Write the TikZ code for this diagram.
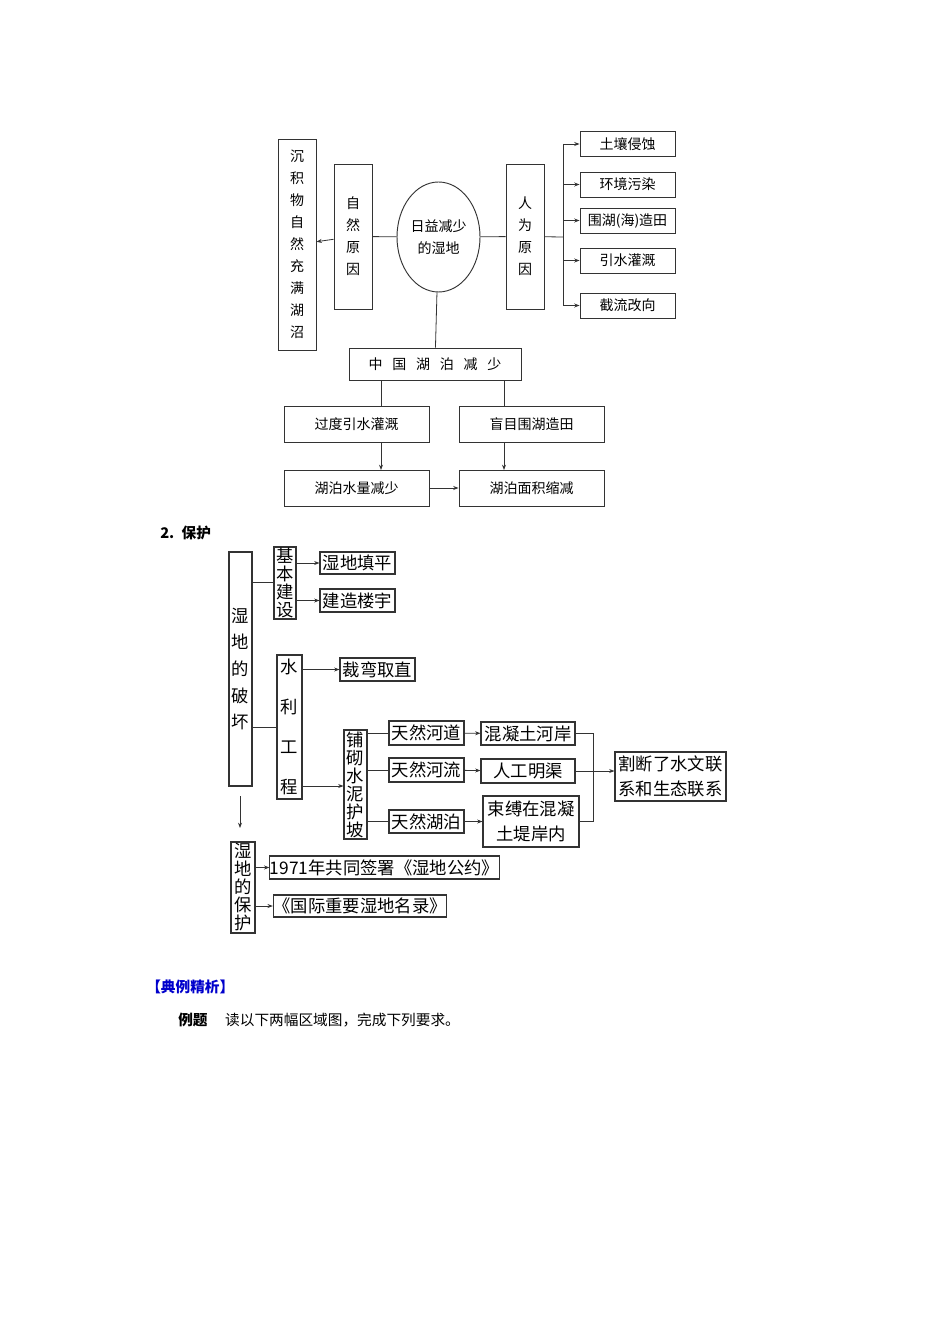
\documentclass[tikz,border=0pt]{standalone}
\usepackage{fontspec}
\setmainfont{Liberation Serif}
\newfontfamily\cjk{Noto Sans CJK SC}
\usetikzlibrary{arrows.meta,shapes.geometric}
\begin{document}
\begin{tikzpicture}[x=0.75pt,y=-0.75pt,
  sz/.style 2 args={minimum width=#1*0.75pt,minimum height=#2*0.75pt},
  bx/.style={draw=black!80,line width=0.7pt,inner sep=0pt,align=center,font=\cjk\fontsize{10.5}{16.5}\selectfont},
  bb/.style={draw=black!80,line width=0.8pt,inner sep=0pt,align=center,font=\cjk\fontsize{13}{13.5}\selectfont},
  ln/.style={draw=black!80,line width=0.6pt},
  ar/.style={ln,-{Stealth[length=4pt,width=3pt]}}]
\useasboundingbox (0,0) rectangle (950,1344);
\fill[white] (0,0) rectangle (950,1344);
% ---- top diagram
\node[bx,sz={38}{211}] (cj) at (297,244.5) {沉\\积\\物\\自\\然\\充\\满\\湖\\沼};
\node[bx,sz={38}{145}] (zr) at (353,236.5) {自\\然\\原\\因};
\node[bx,ellipse,sz={83}{110}] (el) at (438.5,237) {日益减少\\的湿地};
\node[bx,sz={38}{145}] (rw) at (525,236.5) {人\\为\\原\\因};
\node[bx,sz={95}{25}] (r1) at (627.5,144) {土壤侵蚀};
\node[bx,sz={95}{25}] (r2) at (627.5,184.5) {环境污染};
\node[bx,sz={95}{25}] (r3) at (627.5,220.5) {围湖(海)造田};
\node[bx,sz={95}{25}] (r4) at (627.5,260.5) {引水灌溉};
\node[bx,sz={95}{25}] (r5) at (627.5,305.5) {截流改向};
\node[bx,sz={172}{32}] (zg) at (435,364) {中\hspace{0.7em}国\hspace{0.7em}湖\hspace{0.7em}泊\hspace{0.7em}减\hspace{0.7em}少};
\node[bx,sz={145}{36}] (gd) at (356.5,424) {过度引水灌溉};
\node[bx,sz={145}{36}] (mm) at (531.5,424) {盲目围湖造田};
\node[bx,sz={145}{36}] (sl) at (356.5,488) {湖泊水量减少};
\node[bx,sz={145}{36}] (mj) at (531.5,488) {湖泊面积缩减};
\draw[ln] (el) -- (zr);
\draw[ar] (zr) -- (cj);
\draw[ln] (el) -- (rw);
\coordinate (bj) at (563,237);
\coordinate (bt) at (563,144);
\coordinate (bb2) at (563,305.5);
\draw[ln] (rw) -- (bj);
\draw[ln] (bt) -- (bb2);
\foreach \n in {r1,r2,r3,r4,r5} \draw[ar] (bt |- \n) -- (\n);
\draw[ln] (el) -- (zg);
\coordinate (a1) at (381,380); \coordinate (a2) at (381,406);
\coordinate (a3) at (381,442); \coordinate (a4) at (381,470);
\coordinate (b1) at (504,380); \coordinate (b2) at (504,406);
\coordinate (b3) at (504,442); \coordinate (b4) at (504,470);
\draw[ln] (a1) -- (a2); \draw[ln] (b1) -- (b2);
\draw[ar] (a3) -- (a4); \draw[ar] (b3) -- (b4);
\draw[ar] (sl) -- (mj);
% ---- heading
\node[anchor=west,inner sep=0pt,font=\cjk\fontsize{11}{13}\selectfont\bfseries] (h2) at (160,533) {2.\hspace{0.5em}保护};
% ---- bottom diagram
\node[bb,sz={23}{234},font=\cjk\fontsize{13}{20}\selectfont] (ph) at (240.5,669) {湿\\地\\的\\破\\坏};
\node[bb,sz={22}{72}] (jb) at (285,583) {基\\本\\建\\设};
\node[bb,sz={75}{22}] (tp) at (357.5,563) {湿地填平};
\node[bb,sz={75}{23}] (lz) at (357.5,600.5) {建造楼宇};
\node[bb,sz={25}{144},font=\cjk\fontsize{13}{30}\selectfont] (sl2) at (289.5,727) {水\\利\\工\\程};
\node[bb,sz={75}{23}] (cw) at (377.5,669.5) {裁弯取直};
\node[bb,sz={23}{109}] (pq) at (355.5,784.5) {铺\\砌\\水\\泥\\护\\坡};
\node[bb,sz={75}{24}] (t1) at (426.5,733) {天然河道};
\node[bb,sz={75}{24}] (t2) at (426.5,770) {天然河流};
\node[bb,sz={75}{23}] (t3) at (426.5,821.5) {天然湖泊};
\node[bb,sz={94}{23}] (h1) at (528,733.5) {混凝土河岸};
\node[bb,sz={94}{24}] (h2b) at (528,771) {人工明渠};
\node[bb,sz={96}{51},font=\cjk\fontsize{13}{19}\selectfont] (h3) at (531,821.5) {束缚在混凝\\土堤岸内};
\node[bb,sz={111}{49},font=\cjk\fontsize{13}{19}\selectfont] (gd2) at (670.5,776.5) {割断了水文联\\系和生态联系};
\node[bb,sz={24}{91}] (bh) at (243,887.5) {湿\\地\\的\\保\\护};
\node[bb,sz={221}{23}] (gy) at (384.5,867.5) {1971年共同签署《湿地公约》};
\node[bb,sz={172}{22}] (ml) at (360,906) {《国际重要湿地名录》};
\coordinate (p1) at (252,582); \coordinate (p2) at (252,727);
\draw[ln] (p1) -- (jb.west |- p1);
\draw[ln] (p2) -- (sl2.west |- p2);
\draw[ar] (jb.east |- tp) -- (tp);
\draw[ar] (jb.east |- lz) -- (lz);
\draw[ar] (sl2.east |- cw) -- (cw);
\coordinate (q1) at (302,786);
\draw[ar] (q1) -- (pq.west |- q1);
\foreach \n in {t1,t2,t3} \draw[ln] (pq.east |- \n) -- (\n);
\draw[ar] (t1) -- (h1);
\draw[ar] (t2) -- (h2b);
\draw[ar] (t3) -- (h3);
\coordinate (k1) at (593,733.5); \coordinate (k2) at (593,821.5);
\draw[ln] (h1) -- (k1) -- (k2) -- (h3);
\draw[ar] (h2b) -- (gd2.west |- h2b);
\coordinate (d1) at (240,796); \coordinate (d2) at (240,828);
\draw[ar] (d1) -- (d2);
\draw[ar] (bh.east |- gy) -- (gy);
\draw[ar] (bh.east |- ml) -- (ml);
% ---- footer text
\node[anchor=west,inner sep=0pt,text=blue!80!black,font=\cjk\fontsize{11}{13}\selectfont\bfseries] (dl) at (146,987) {【典例精析】};
\node[anchor=west,inner sep=0pt,font=\cjk\fontsize{11}{13}\selectfont] (lt) at (178,1020) {{\bfseries 例题}\hspace{1.2em}读以下两幅区域图，完成下列要求。};
\end{tikzpicture}
\end{document}
